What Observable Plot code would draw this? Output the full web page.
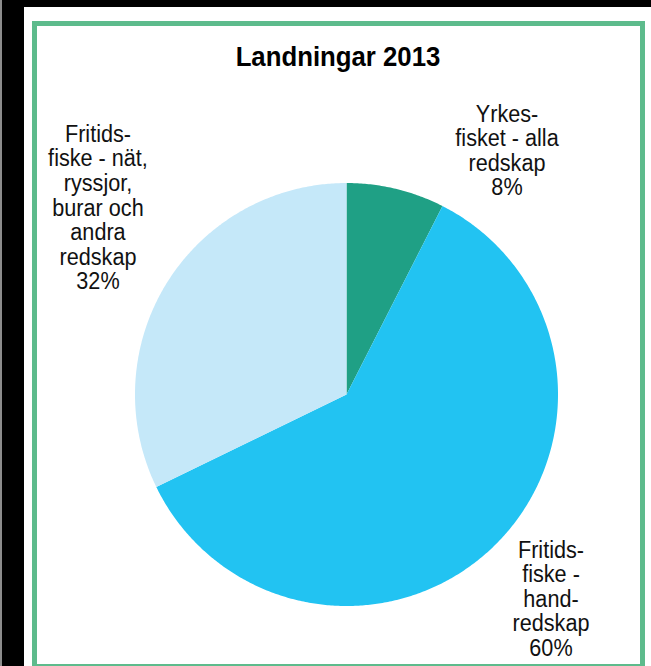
<!DOCTYPE html>
<html>
<head>
<meta charset="utf-8">
<script src="https://cdn.jsdelivr.net/npm/d3@7"></script>
<script src="https://cdn.jsdelivr.net/npm/@observablehq/plot@0.6"></script>
<style>
  html, body { margin: 0; padding: 0; }
  body { width: 651px; height: 666px; background: #000; position: relative; overflow: hidden;
         font-family: "Liberation Sans", Arial, sans-serif; }
  #grayline { position: absolute; left: 0; top: 0; width: 2px; height: 666px; background: #8c8c8c; }
  #white { position: absolute; left: 24px; top: 7px; right: 0; bottom: 0; background: #fff; }
  #frame { position: absolute; left: 32px; top: 21px; width: 613px; height: 648px;
           border: 5px solid #5dbb8c; box-sizing: border-box; }
  #title { position: absolute; left: 137.5px; width: 400px; top: 43px; text-align: center;
           font-weight: bold; font-size: 28px; line-height: 28px; color: #000;
           transform: scaleX(0.92); transform-origin: center; white-space: nowrap; }
  .lbl { position: absolute; width: 200px; text-align: center; font-size: 23px; line-height: 24.6px;
         color: #111; transform: scaleX(0.94); transform-origin: center; white-space: nowrap; }
  #chart { position: absolute; left: 135px; top: 183px; }
</style>
</head>
<body>
<div id="grayline"></div>
<div id="white"></div>
<div id="frame"></div>
<div id="title"></div>
<div id="chart"></div>
<script>
// Data
const title = "Landningar 2013";
const categories = ["Yrkesfisket - alla redskap", "Fritidsfiske - handredskap", "Fritidsfiske - nät, ryssjor, burar och andra redskap"];
const shares = [7.5, 60.3, 32.2];
const labelLines = [
  ["Yrkes-", "fisket - alla", "redskap", "8%"],
  ["Fritids-", "fiske -", "hand-", "redskap", "60%"],
  ["Fritids-", "fiske - nät,", "ryssjor,", "burar och", "andra", "redskap", "32%"]
];
const colors = ["#1fa085", "#22c3f2", "#c5e8f9"];

document.getElementById("title").textContent = title;

// Build slice outlines from the shares (cumulative angles, clockwise from 12 o'clock)
const total = d3.sum(shares);
let acc = 0;
const rows = [];
categories.forEach((cat, i) => {
  const a0 = acc / total * 2 * Math.PI;
  acc += shares[i];
  const a1 = acc / total * 2 * Math.PI;
  const n = Math.max(2, Math.ceil((a1 - a0) / (Math.PI / 360)));
  for (let k = 0; k <= n; k++) {
    const a = a0 + (a1 - a0) * k / n;
    rows.push({cat, x1: Math.sin(a), y1: Math.cos(a), x2: 0, y2: 0});
  }
});

const size = 423;
const plot = Plot.plot({
  width: size,
  height: size,
  margin: 0,
  x: {domain: [-1, 1], axis: null},
  y: {domain: [-1, 1], axis: null},
  color: {domain: categories, range: colors},
  style: {background: "transparent", overflow: "visible"},
  marks: [
    Plot.area(rows, {x1: "x1", y1: "y1", x2: "x2", y2: "y2", z: "cat", fill: "cat", curve: "linear"})
  ]
});
document.getElementById("chart").appendChild(plot);

// Labels
const labelPos = [
  {cx: 507, top: 101.5},
  {cx: 551, top: 537.5},
  {cx: 98, top: 121.8}
];
labelLines.forEach((lines, i) => {
  const d = document.createElement("div");
  d.className = "lbl";
  d.style.left = (labelPos[i].cx - 100) + "px";
  d.style.top = labelPos[i].top + "px";
  d.innerHTML = lines.map(s => s.replace(/&/g, "&amp;")).join("<br>");
  document.body.appendChild(d);
});
</script>
</body>
</html>
